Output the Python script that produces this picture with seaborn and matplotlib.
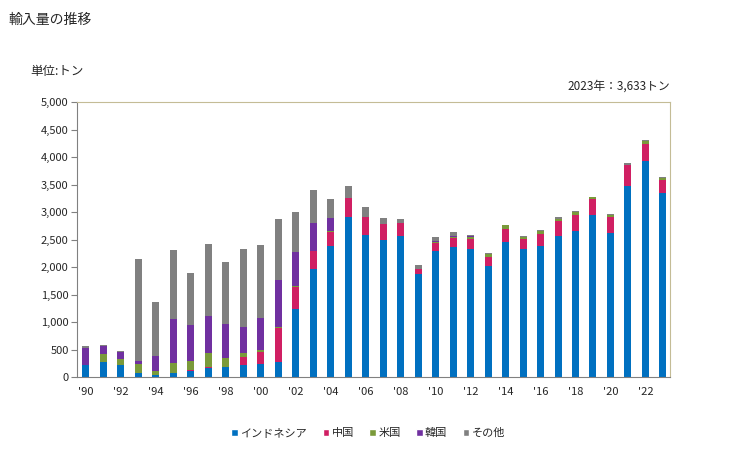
import matplotlib
matplotlib.use("Agg")
import matplotlib.pyplot as plt
from matplotlib.patches import Patch
import numpy as np
import pandas as pd
import seaborn as sns

# data (tons)
years = list(range(1990, 2024))
indonesia = [220, 275, 220, 73, 37, 73, 110, 165, 183, 220, 232, 275, 1228, 1961,
             2389, 2914, 2585, 2499, 2572, 1876, 2291, 2365, 2328, 2022, 2462, 2328,
             2389, 2572, 2658, 2939, 2621, 3464, 3929, 3342]
china = [0, 0, 0, 0, 0, 0, 18, 18, 0, 147, 226, 623, 409, 330,
         251, 349, 329, 287, 232, 85, 147, 165, 183, 159, 232, 183,
         214, 269, 293, 293, 281, 385, 305, 232]
usa = [0, 147, 110, 165, 73, 184, 165, 257, 165, 73, 37, 19, 19, 0,
       18, 0, 0, 0, 0, 0, 18, 18, 37, 55, 62, 43,
       49, 37, 49, 37, 37, 5, 61, 43]
korea = [312, 146, 128, 55, 275, 806, 660, 678, 623, 477, 586, 843, 617, 513,
         238, 0, 0, 0, 0, 0, 19, 18, 18, 0, 0, 0,
         0, 0, 0, 0, 0, 0, 0, 0]
others = [36, 19, 19, 1852, 971, 1247, 935, 1302, 1119, 1411, 1320, 1118, 733, 605,
          348, 201, 184, 110, 74, 74, 73, 74, 19, 10, 12, 18,
          12, 24, 12, 12, 18, 32, 13, 16]

series_names = ["インドネシア", "中国", "米国", "韓国", "その他"]
series_values = [indonesia, china, usa, korea, others]
colors = ["#0070C0", "#D01F63", "#7A9A3A", "#7030A0", "#808080"]

year_labels = [f"'{y % 100:02d}" for y in years]

df = pd.DataFrame({"year": year_labels})
for name, vals in zip(series_names, series_values):
    df[name] = vals

sns.set_style("white")
plt.rcParams["font.family"] = ["Noto Sans CJK JP", "DejaVu Sans"]

fig = plt.figure(figsize=(7.29, 4.5), dpi=100)
ax = fig.add_axes([0.1056, 0.1622, 0.8134, 0.6111])

# stacked bars: draw cumulative totals, tallest first
cum = df[series_names].cumsum(axis=1)
for name, color in reversed(list(zip(series_names, colors))):
    sns.barplot(x=df["year"], y=cum[name], color=color, width=0.4,
                saturation=1, ax=ax, linewidth=0)

ax.set_ylim(0, 5000)
ax.set_xlim(-0.5, 33.4)
ax.set_yticks(np.arange(0, 5001, 500))
ax.set_yticklabels([f"{v:,}" for v in range(0, 5001, 500)], fontsize=8)
ax.set_xticks(range(0, len(years), 2))
ax.set_xticklabels(year_labels[::2], fontsize=8)
ax.set_xlabel("")
ax.set_ylabel("")

for side in ["left", "bottom"]:
    ax.spines[side].set_color("#808080")
for side in ["top", "right"]:
    ax.spines[side].set_color("#C4BC96")
ax.tick_params(axis="y", left=True, length=4, color="#808080", pad=2)
ax.tick_params(axis="x", bottom=False, pad=4)

fig.text(0.011, 0.972, "輸入量の推移", fontsize=10, va="top", ha="left")
fig.text(0.041, 0.84, "単位:トン", fontsize=9, va="center", ha="left")
fig.text(0.919, 0.809, "2023年：3,633トン", fontsize=8.5, va="center", ha="right")

handles = [Patch(facecolor=c, label=n) for n, c in zip(series_names, colors)]
fig.legend(handles=handles, loc="center", bbox_to_anchor=(0.505, 0.038),
           ncol=5, frameon=False, fontsize=8, handlelength=0.6,
           handleheight=0.6, handletextpad=0.2, columnspacing=1.4)

fig.savefig("out.png", dpi=100)
